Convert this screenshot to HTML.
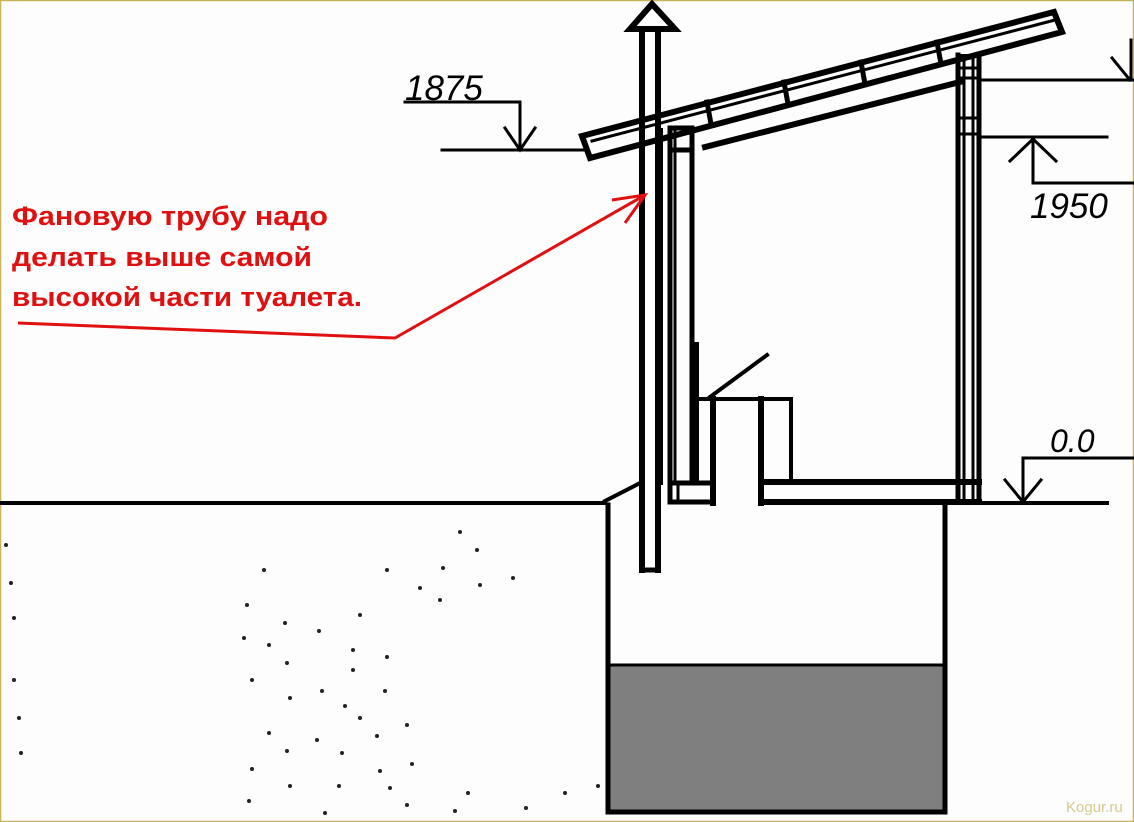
<!DOCTYPE html>
<html><head><meta charset="utf-8"><style>
html,body{margin:0;padding:0;background:#fdfdfd;}
svg{display:block;}
</style></head><body>
<svg width="1134" height="822" viewBox="0 0 1134 822" xmlns="http://www.w3.org/2000/svg">
<rect x="0.5" y="0.5" width="1133" height="821" fill="#fdfdfd" stroke="#c8b45a" stroke-width="1.5"/>
<g stroke="#000" fill="none" stroke-linecap="square">
<polygon points="582,136 1054,12 1062,32 590,158" stroke-width="6" fill="#fdfdfd"/>
<line x1="592" y1="141" x2="1055" y2="20" stroke-width="3"/>
<g stroke-width="5">
<line x1="707" y1="102" x2="711" y2="124"/>
<line x1="784" y1="82" x2="788" y2="104"/>
<line x1="861" y1="62" x2="865" y2="84"/>
<line x1="937" y1="42" x2="941" y2="64"/>
</g>
<line x1="705" y1="147" x2="960" y2="82" stroke-width="6"/>
<line x1="661" y1="130" x2="661" y2="483" stroke-width="4"/>
<line x1="670" y1="130" x2="670" y2="483" stroke-width="5"/>
<line x1="675" y1="130" x2="675" y2="483" stroke-width="3"/>
<line x1="692" y1="130" x2="692" y2="483" stroke-width="5"/>
<rect x="670" y="128" width="22" height="22" stroke-width="5"/>
<line x1="696" y1="345" x2="696" y2="480" stroke-width="6"/>
<line x1="958" y1="55" x2="958" y2="502" stroke-width="5"/>
<line x1="964" y1="60" x2="964" y2="500" stroke-width="3"/>
<line x1="973" y1="60" x2="973" y2="500" stroke-width="3"/>
<line x1="979" y1="55" x2="979" y2="502" stroke-width="5"/>
<line x1="958" y1="56" x2="979" y2="56" stroke-width="4"/>
<line x1="960" y1="68" x2="977" y2="68" stroke-width="3"/>
<line x1="960" y1="78" x2="977" y2="78" stroke-width="3"/>
<line x1="960" y1="118" x2="977" y2="118" stroke-width="3"/>
<line x1="960" y1="134" x2="977" y2="134" stroke-width="3"/>
<line x1="642" y1="35" x2="642" y2="570" stroke-width="6"/>
<line x1="658" y1="35" x2="658" y2="570" stroke-width="6"/>
<line x1="642" y1="570" x2="658" y2="570" stroke-width="5"/>
<polygon points="652,4 630,29 675,29" stroke-width="6" fill="#fdfdfd"/>
<line x1="710" y1="397" x2="767" y2="355" stroke-width="4"/>
<line x1="697" y1="399" x2="791" y2="399" stroke-width="4"/>
<line x1="713" y1="399" x2="713" y2="503" stroke-width="6"/>
<line x1="761" y1="399" x2="761" y2="503" stroke-width="6"/>
<line x1="791" y1="399" x2="791" y2="482" stroke-width="4"/>
<line x1="761" y1="482" x2="979" y2="482" stroke-width="6"/>
<line x1="761" y1="502" x2="979" y2="502" stroke-width="6"/>
<rect x="670" y="483" width="43" height="19" stroke-width="5"/>
<line x1="678" y1="485" x2="678" y2="500" stroke-width="3"/>
<line x1="0" y1="503" x2="605" y2="503" stroke-width="4"/>
<line x1="979" y1="503" x2="1107" y2="503" stroke-width="4"/>
<line x1="605" y1="501" x2="642" y2="482" stroke-width="4"/>
<rect x="608" y="665" width="337" height="147" fill="#7f7f7f" stroke="none"/>
<line x1="608" y1="505" x2="608" y2="812" stroke-width="5"/>
<line x1="945" y1="505" x2="945" y2="812" stroke-width="5"/>
<line x1="608" y1="812" x2="945" y2="812" stroke-width="5"/>
<line x1="608" y1="665" x2="945" y2="665" stroke-width="3"/>
<polyline points="405,102 520,102 520,150" stroke-width="3"/>
<polyline points="505,128 520,150 535,128" stroke-width="3"/>
<line x1="442" y1="150" x2="583" y2="150" stroke-width="3"/>
<line x1="979" y1="80" x2="1134" y2="80" stroke-width="3"/>
<polyline points="1112,58 1130,80" stroke-width="3"/>
<line x1="1131" y1="40" x2="1131" y2="80" stroke-width="3"/>
<line x1="979" y1="137" x2="1107" y2="137" stroke-width="3"/>
<polyline points="1010,161 1033,139 1056,161" stroke-width="3"/>
<polyline points="1033,139 1033,183 1134,183" stroke-width="3"/>
<polyline points="1134,458 1023,458 1023,502" stroke-width="3"/>
<polyline points="1005,480 1023,502 1041,480" stroke-width="3"/>
</g>
<g font-family="Liberation Sans, sans-serif" font-style="italic" fill="#000">
<text x="405" y="100" font-size="35">1875</text>
<text x="1030" y="218" font-size="35">1950</text>
<text x="1050" y="452" font-size="32">0.0</text>
</g>
<g fill="#e01010" font-family="Liberation Sans, sans-serif" font-size="27" font-weight="bold">
<text x="12" y="225" textLength="316" lengthAdjust="spacingAndGlyphs">Фановую трубу надо</text>
<text x="12" y="266" textLength="300" lengthAdjust="spacingAndGlyphs">делать выше самой</text>
<text x="12" y="306" textLength="350" lengthAdjust="spacingAndGlyphs">высокой части туалета.</text>
</g>
<g stroke="#e01010" stroke-width="3" fill="none">
<polyline points="18,323 395,338 645,195"/>
<polyline points="612,200 645,195 625,223"/>
</g>
<g fill="#222">
<circle cx="460" cy="532" r="2"/><circle cx="477" cy="550" r="2"/><circle cx="264" cy="570" r="2"/><circle cx="387" cy="570" r="2"/><circle cx="443" cy="568" r="2"/><circle cx="513" cy="578" r="2"/><circle cx="420" cy="588" r="2"/><circle cx="480" cy="585" r="2"/><circle cx="440" cy="600" r="2"/><circle cx="247" cy="605" r="2"/><circle cx="285" cy="623" r="2"/><circle cx="319" cy="631" r="2"/><circle cx="244" cy="638" r="2"/><circle cx="269" cy="645" r="2"/><circle cx="353" cy="650" r="2"/><circle cx="387" cy="657" r="2"/><circle cx="287" cy="663" r="2"/><circle cx="353" cy="670" r="2"/><circle cx="252" cy="680" r="2"/><circle cx="322" cy="691" r="2"/><circle cx="385" cy="691" r="2"/><circle cx="290" cy="698" r="2"/><circle cx="345" cy="706" r="2"/><circle cx="360" cy="718" r="2"/><circle cx="407" cy="725" r="2"/><circle cx="269" cy="733" r="2"/><circle cx="377" cy="736" r="2"/><circle cx="317" cy="740" r="2"/><circle cx="287" cy="751" r="2"/><circle cx="342" cy="753" r="2"/><circle cx="412" cy="764" r="2"/><circle cx="252" cy="769" r="2"/><circle cx="380" cy="771" r="2"/><circle cx="290" cy="786" r="2"/><circle cx="339" cy="786" r="2"/><circle cx="390" cy="788" r="2"/><circle cx="468" cy="793" r="2"/><circle cx="565" cy="793" r="2"/><circle cx="598" cy="786" r="2"/><circle cx="249" cy="801" r="2"/><circle cx="407" cy="805" r="2"/><circle cx="455" cy="811" r="2"/><circle cx="526" cy="808" r="2"/><circle cx="325" cy="813" r="2"/><circle cx="6" cy="545" r="2"/><circle cx="11" cy="583" r="2"/><circle cx="14" cy="618" r="2"/><circle cx="14" cy="680" r="2"/><circle cx="19" cy="718" r="2"/><circle cx="21" cy="753" r="2"/><circle cx="360" cy="615" r="2"/>
</g>
<text x="1066" y="812" font-family="Liberation Sans, sans-serif" font-size="15" fill="#d8c98a">Kogur.ru</text>
</svg>
</body></html>
